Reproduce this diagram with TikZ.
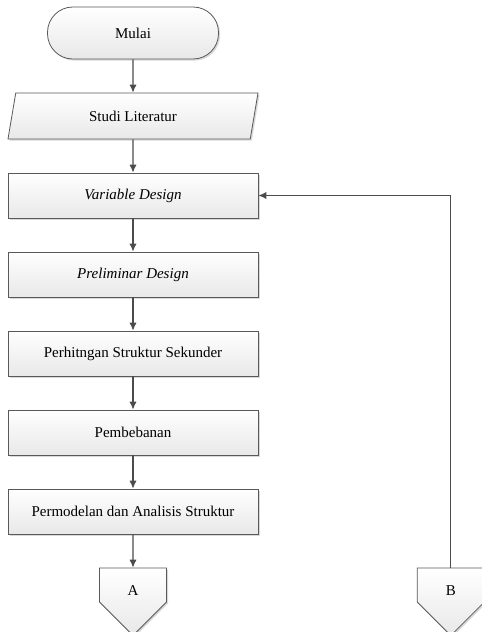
\documentclass[tikz,border=0pt]{standalone}
\usepackage{fontspec}
\setmainfont{Liberation Serif}
\usetikzlibrary{positioning,shapes.geometric,shapes.symbols,shadows,arrows.meta}

\newcommand{\offlabel}[1]{\raisebox{-8pt}[0pt][0pt]{#1}}

\tikzset{
  base/.style={draw=black!65, line width=0.6pt, top color=white, bottom color=black!9,
    drop shadow={shadow xshift=1.2pt, shadow yshift=-1.2pt, fill=black!25, opacity=0.6},
    align=center, inner sep=2pt},
  terminal/.style={base, rounded corners=19pt, minimum width=128.25pt, minimum height=39pt},
  inputbox/.style={base, trapezium, trapezium left angle=64, trapezium right angle=116,
    trapezium stretches body, minimum width=187.5pt, minimum height=34.5pt},
  process/.style={base, rectangle, minimum width=187.5pt, minimum height=33.75pt},
  offpage/.style={base, signal, signal to=south, signal pointer angle=90,
    minimum width=50.25pt, minimum height=1pt, inner ysep=12.75pt},
  flow/.style={draw=black!70, line width=0.9pt, -{Latex[length=6pt,width=5.5pt]}}
}

\begin{document}
\begin{tikzpicture}[x=0.75pt, y=-0.75pt, node distance=24.9pt,
  font=\fontsize{11.25}{13}\selectfont]
\clip (0,0) rectangle (482,632);
\useasboundingbox (0,0) rectangle (482,632);

% alur utama
\node[terminal] (mulai) at (133,33) {Mulai};
\node[inputbox, below=of mulai] (studi) {Studi Literatur};
\node[process, below=of studi] (vardes) {\textit{Variable Design}};
\node[process, below=of vardes] (predes) {\textit{Preliminar Design}};
\node[process, below=of predes] (sekunder) {Perhitngan Struktur Sekunder};
\node[process, below=of sekunder] (beban) {Pembebanan};
\node[process, below=of beban] (model) {Permodelan dan Analisis Struktur};
\node[offpage, below=of model] (offA) {\offlabel{A}};
\node[offpage, right=187.5pt of offA] (offB) {\offlabel{B}};

\draw[flow] (mulai) -- (studi);
\draw[flow] (studi) -- (vardes);
\draw[flow] (vardes) -- (predes);
\draw[flow] (predes) -- (sekunder);
\draw[flow] (sekunder) -- (beban);
\draw[flow] (beban) -- (model);
\draw[flow] (model) -- (offA);
% kembali dari B
\draw[flow] (offB.north) |- (vardes.east);
\end{tikzpicture}
\end{document}
